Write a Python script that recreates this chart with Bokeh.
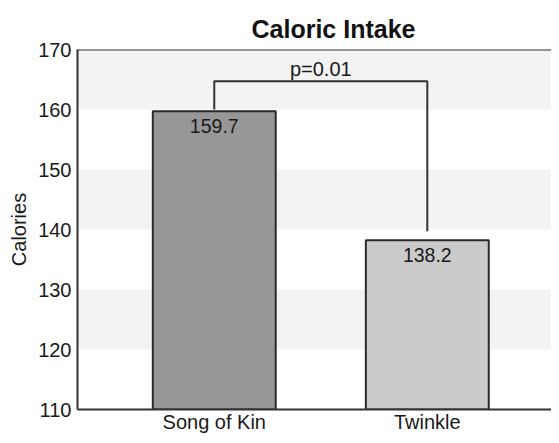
from bokeh.plotting import figure
from bokeh.models import Range1d, Span, ColumnDataSource, FixedTicker
from bokeh.embed import file_html
from bokeh.resources import INLINE
from bokeh.core.properties import value

categories = ["Song of Kin", "Twinkle"]
calories = [159.7, 138.2]
bar_colors = ["#979797", "#cbcbcb"]
y_ticks = [110, 120, 130, 140, 150, 160, 170]
band_bottoms = [120, 140, 160]
p_label = "p=0.01"
bracket_top = 164.7

xs = [i + 1 for i in range(len(categories))]
labels_txt = [f"{v:.1f}" for v in calories]

FONT = "Liberation Sans"

p = figure(width=551, height=435, output_backend="svg", toolbar_location=None,
           x_range=Range1d(0.358, 2.583), y_range=Range1d(110, 170),
           min_border_left=77, min_border_right=0, min_border_top=49, min_border_bottom=0,
           background_fill_color="white", border_fill_color="white")
p.outline_line_color = None
p.grid.visible = False

# title
p.title.text = "Caloric Intake"
p.title.text_font = FONT
p.title.text_font_size = "25px"
p.title.text_font_style = "bold"
p.title.text_color = "#111111"
p.title.align = "left"
p.title.offset = 174
p.title.standoff = 14

# alternating bands
p.hbar(y=[b + 5 for b in band_bottoms], height=10, left=0, right=3,
       fill_color="#f3f3f3", line_color=None)

src = ColumnDataSource(dict(x=xs, top=calories, color=bar_colors, lbl=labels_txt))
p.vbar(x="x", top="top", bottom=110, width=0.577, fill_color="color",
       line_color="#2a2a2a", line_width=2, source=src)

p.text(x="x", y="top", text="lbl", source=src, text_align="center",
       text_baseline="top", y_offset=8, text_font=value(FONT),
       text_font_size="19.5px", text_color="#1a1a1a")

# significance bracket
p.line(x=[xs[0], xs[0], xs[1], xs[1]],
       y=[calories[0] + 0.3, bracket_top, bracket_top, calories[1] + 1.5],
       line_color="#333333", line_width=2)
p.text(x=[(xs[0] + xs[1]) / 2], y=[bracket_top], text=[p_label],
       text_align="center", text_baseline="alphabetic", y_offset=-12,
       text_font=value(FONT), text_font_size="20px", text_color="#1a1a1a")

# top border
p.add_layout(Span(location=170, dimension="width", line_color="#333333", line_width=2))

# axes
p.xaxis.ticker = FixedTicker(ticks=xs)
p.xaxis.major_label_overrides = {x: c for x, c in zip(xs, categories)}
p.yaxis.ticker = FixedTicker(ticks=y_ticks)
for ax in (p.xaxis[0], p.yaxis[0]):
    ax.axis_line_color = "#333333"
    ax.axis_line_width = 2
    ax.major_tick_line_color = None
    ax.minor_tick_line_color = None
    ax.major_tick_out = 0
    ax.major_tick_in = 0
    ax.major_label_text_font = FONT
    ax.major_label_text_color = "#1a1a1a"
p.xaxis.major_label_text_font_size = "20px"
p.xaxis.major_label_standoff = 1
p.yaxis.major_label_text_font_size = "20px"
p.yaxis.major_label_standoff = 6
p.yaxis.axis_label = "Calories"
p.yaxis.axis_label_text_font = FONT
p.yaxis.axis_label_text_font_size = "20px"
p.yaxis.axis_label_text_font_style = "normal"
p.yaxis.axis_label_text_color = "#1a1a1a"
p.yaxis.axis_label_standoff = 5

open("out.html", "w").write(file_html(p, INLINE))
